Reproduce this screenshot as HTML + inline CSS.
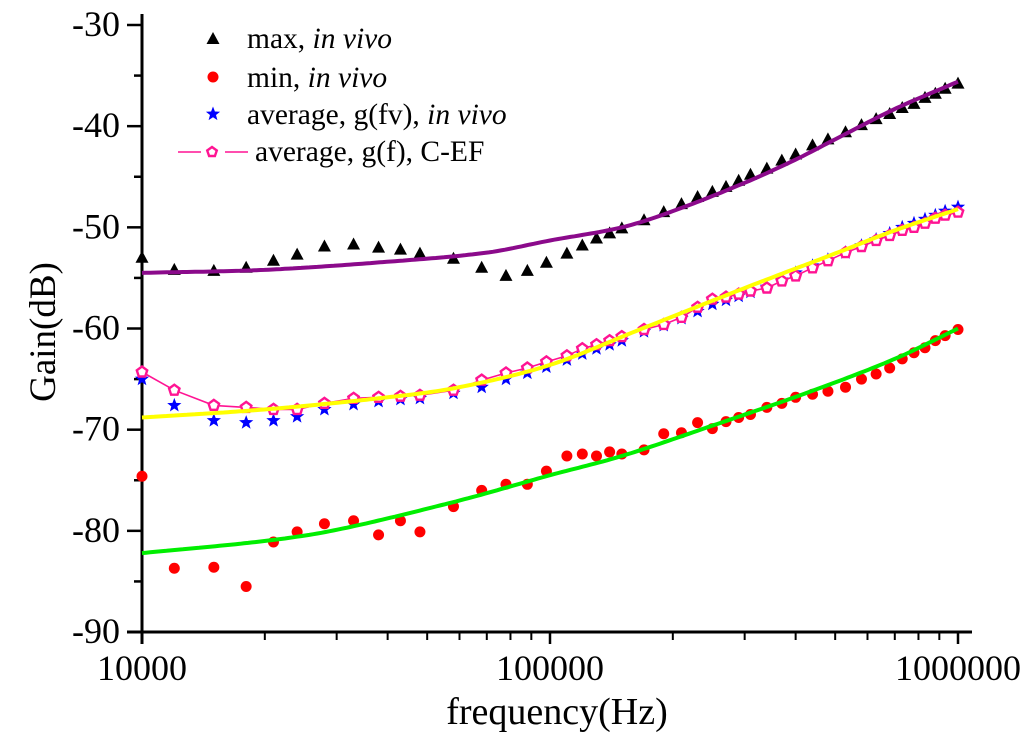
<!DOCTYPE html>
<html><head><meta charset="utf-8"><style>
html,body{margin:0;padding:0;background:#fff;}
svg{display:block;font-family:"Liberation Serif",serif;}
</style></head><body>
<svg id="chart" width="1024" height="744" viewBox="0 0 1024 744"></svg>
<script>
const freqs=[10000,12000,15000,18000,21000,24000,28000,33000,38000,43000,48000,58000,68000,78000,88000,98000,110000,120000,130000,140000,150000,170000,190000,210000,230000,250000,270000,290000,310000,340000,370000,400000,440000,480000,530000,580000,630000,680000,730000,780000,830000,880000,930000,1000000];
const maxVals=[-53.0,-54.2,-54.3,-54.0,-53.3,-52.7,-51.9,-51.7,-52.0,-52.2,-52.6,-53.1,-54.0,-54.8,-54.3,-53.5,-52.6,-51.8,-51.1,-50.6,-50.1,-49.3,-48.5,-47.7,-47.0,-46.5,-46.0,-45.4,-44.8,-44.2,-43.4,-42.8,-41.9,-41.3,-40.6,-39.9,-39.3,-38.8,-38.2,-37.8,-37.2,-36.8,-36.3,-35.8];
const minVals=[-74.6,-83.7,-83.6,-85.5,-81.1,-80.1,-79.3,-79.0,-80.4,-79.0,-80.1,-77.6,-76.0,-75.4,-75.4,-74.1,-72.6,-72.4,-72.6,-72.2,-72.4,-72.0,-70.4,-70.3,-69.3,-69.9,-69.2,-68.8,-68.5,-67.8,-67.4,-66.8,-66.5,-66.2,-65.8,-65.0,-64.5,-63.9,-63.0,-62.4,-61.9,-61.2,-60.7,-60.1];
const avgVivoVals=[-65.0,-67.6,-69.1,-69.3,-69.1,-68.7,-68.0,-67.5,-67.2,-67.0,-66.9,-66.4,-65.8,-65.0,-64.4,-63.8,-63.1,-62.5,-62.0,-61.6,-61.2,-60.3,-59.7,-59.0,-58.3,-57.6,-57.2,-56.8,-56.4,-55.9,-55.2,-54.5,-53.8,-53.2,-52.5,-51.8,-51.2,-50.6,-50.0,-49.6,-49.2,-48.8,-48.4,-48.0];
const avgCefVals=[-64.3,-66.1,-67.6,-67.8,-68.0,-68.0,-67.4,-66.9,-66.8,-66.7,-66.6,-66.1,-65.1,-64.4,-63.9,-63.3,-62.7,-62.0,-61.6,-61.2,-60.8,-60.1,-59.6,-58.9,-57.9,-57.1,-56.9,-56.6,-56.3,-56.0,-55.3,-54.8,-54.0,-53.3,-52.5,-51.9,-51.3,-50.8,-50.3,-50.0,-49.6,-49.1,-48.8,-48.5];
const fitMaxF=[10000,20000,40000,70000,100000,150000,200000,300000,400000,500000,700000,1000000];
const fitMaxV=[-54.5,-54.2,-53.4,-52.5,-51.3,-50.0,-48.4,-45.6,-43.3,-41.3,-38.3,-35.6];
const fitMinF=[10000,20000,30000,60000,100000,150000,250000,430000,700000,1000000];
const fitMinV=[-82.2,-81.0,-79.9,-77.0,-74.5,-72.6,-69.6,-66.3,-63.0,-60.0];
const fitAvgF=[10000,20000,40000,60000,100000,166000,300000,514000,700000,1000000];
const fitAvgV=[-68.8,-68.0,-66.8,-65.8,-63.6,-60.1,-56.0,-52.4,-50.3,-48.2];
const yTicks=[-30,-40,-50,-60,-70,-80,-90];
const xTicks=[10000,100000,1000000];
const xTickLabels=["10000","100000","1000000"];

const NS="http://www.w3.org/2000/svg";
const svg=document.getElementById('chart');
const X=f=>142+Math.log10(f/1e4)*408;
const Y=v=>25+(-30-v)*10.117;
function mk(tag,attrs,parent){const e=document.createElementNS(NS,tag);for(const k in attrs)e.setAttribute(k,attrs[k]);(parent||svg).appendChild(e);return e;}

const ax=mk('g',{});


let e=mk('line',{x1:142,y1:14,x2:142,y2:644,stroke:'#000','stroke-width':3},ax);


e=mk('line',{x1:127,y1:632,x2:972,y2:632,stroke:'#000','stroke-width':3},ax);


for(let v=-30;v>=-90;v-=5){
  const major=v%10===0;
  e=mk('line',{x1:major?127:134,y1:Y(v),x2:142,y2:Y(v),stroke:'#000','stroke-width':2.5},ax);
  
  
}
yTicks.forEach(v=>{
  const t=mk('text',{x:120,y:Y(v)+11,'text-anchor':'end','font-size':36},ax);
  t.textContent=String(v);
  
  
});
for(let d=1e4;d<1e6;d*=10){for(let m=2;m<=9;m++){
  e=mk('line',{x1:X(d*m),y1:632,x2:X(d*m),y2:640,stroke:'#000','stroke-width':2},ax);
  
  
}}
xTicks.forEach((f,i)=>{
  e=mk('line',{x1:X(f),y1:632,x2:X(f),y2:644,stroke:'#000','stroke-width':2.5},ax);
  
  
  const t=mk('text',{x:X(f),y:680,'text-anchor':'middle','font-size':36},ax);
  t.textContent=xTickLabels[i];
  
  
});
let t=mk('text',{x:557,y:724,'text-anchor':'middle','font-size':38});
t.textContent='frequency(Hz)';


t=mk('text',{x:0,y:0,'text-anchor':'middle','font-size':37,transform:'translate(55,332) rotate(-90)'});
t.textContent='Gain(dB)';



function tri(g,x,y,c){return mk('polygon',{points:`${x},${y-7} ${x-6.5},${y+5} ${x+6.5},${y+5}`,fill:c},g);}
function star(g,x,y,c,r){let p=[];for(let i=0;i<10;i++){const rr=i%2?r*0.42:r;const a=-Math.PI/2+i*Math.PI/5;p.push((x+rr*Math.cos(a)).toFixed(1)+','+(y+rr*Math.sin(a)).toFixed(1));}return mk('polygon',{points:p.join(' '),fill:c},g);}
function pent(g,x,y,r){let p=[];for(let i=0;i<5;i++){const a=-Math.PI/2+i*2*Math.PI/5;p.push((x+r*Math.cos(a)).toFixed(1)+','+(y+r*Math.sin(a)).toFixed(1));}return mk('polygon',{points:p.join(' '),fill:'#fff',stroke:'#ff1493','stroke-width':2.4},g);}
function pathOf(F,V){return F.map((f,i)=>(i?'L':'M')+X(f).toFixed(1)+','+Y(V[i]).toFixed(1)).join(' ');}
function smooth(F,V){const n=F.length;let pts=[];for(let k=0;k<=200;k++){const lx=Math.log10(F[0])+(Math.log10(F[n-1])-Math.log10(F[0]))*k/200;let i=0;while(i<n-2&&Math.log10(F[i+1])<lx)i++;
  const x0=Math.log10(F[i]),x1=Math.log10(F[i+1]);const tt=(lx-x0)/(x1-x0);
  const m0=i>0?(V[i+1]-V[i-1])/(x1-Math.log10(F[i-1])):(V[1]-V[0])/(x1-x0);
  const m1=i<n-2?(V[i+2]-V[i])/(Math.log10(F[i+2])-x0):(V[n-1]-V[n-2])/(x1-x0);
  const h=x1-x0,t2=tt*tt,t3=t2*tt;
  const v=(2*t3-3*t2+1)*V[i]+(t3-2*t2+tt)*h*m0+(-2*t3+3*t2)*V[i+1]+(t3-t2)*h*m1;
  pts.push((k?'L':'M')+(142+(lx-4)*408).toFixed(1)+','+Y(v).toFixed(1));}return pts.join(' ');}

let g=mk('g',{});
freqs.forEach((f,i)=>{const m=tri(g,X(f),Y(maxVals[i]),'#000');});
g=mk('g',{});
freqs.forEach((f,i)=>{const m=mk('circle',{cx:X(f),cy:Y(minVals[i]),r:5.5,fill:'#ff0000'},g);});
g=mk('g',{});
freqs.forEach((f,i)=>{const m=star(g,X(f),Y(avgVivoVals[i]),'#0000ff',7.5);});
g=mk('g',{});
e=mk('path',{d:pathOf(freqs,avgCefVals),fill:'none',stroke:'#ff1493','stroke-width':1.6},g);

freqs.forEach((f,i)=>{const m=pent(g,X(f),Y(avgCefVals[i]),5.5);});
e=mk('path',{d:smooth(fitMaxF,fitMaxV),fill:'none',stroke:'#8b0a8b','stroke-width':4});

e=mk('path',{d:smooth(fitAvgF,fitAvgV),fill:'none',stroke:'#ffff00','stroke-width':4});

e=mk('path',{d:smooth(fitMinF,fitMinV),fill:'none',stroke:'#00ee00','stroke-width':4});


const lg=mk('g',{});
function lt(x,y,html,name){const tx=mk('text',{x:x,y:y,'font-size':29.5},lg);tx.innerHTML=html;}
e=tri(lg,213,39,'#000');
lt(247,48,'max, <tspan font-style="italic">in vivo</tspan>','legend-max-label');
e=mk('circle',{cx:213,cy:77,r:5.5,fill:'#ff0000'},lg);
lt(247,87,'min, <tspan font-style="italic">in vivo</tspan>','legend-min-label');
e=star(lg,213,114,'#0000ff',7.5);
lt(247,124,'average, g(fv), <tspan font-style="italic">in vivo</tspan>','legend-avg-vivo-label');
e=mk('line',{x1:178,y1:152,x2:201,y2:152,stroke:'#ff1493','stroke-width':1.6},lg);
e=mk('line',{x1:225,y1:152,x2:248,y2:152,stroke:'#ff1493','stroke-width':1.6},lg);
e=pent(lg,212,152,5);
lt(255,161,'average, g(f), C-EF','legend-avg-cef-label');
</script>
</body></html>
